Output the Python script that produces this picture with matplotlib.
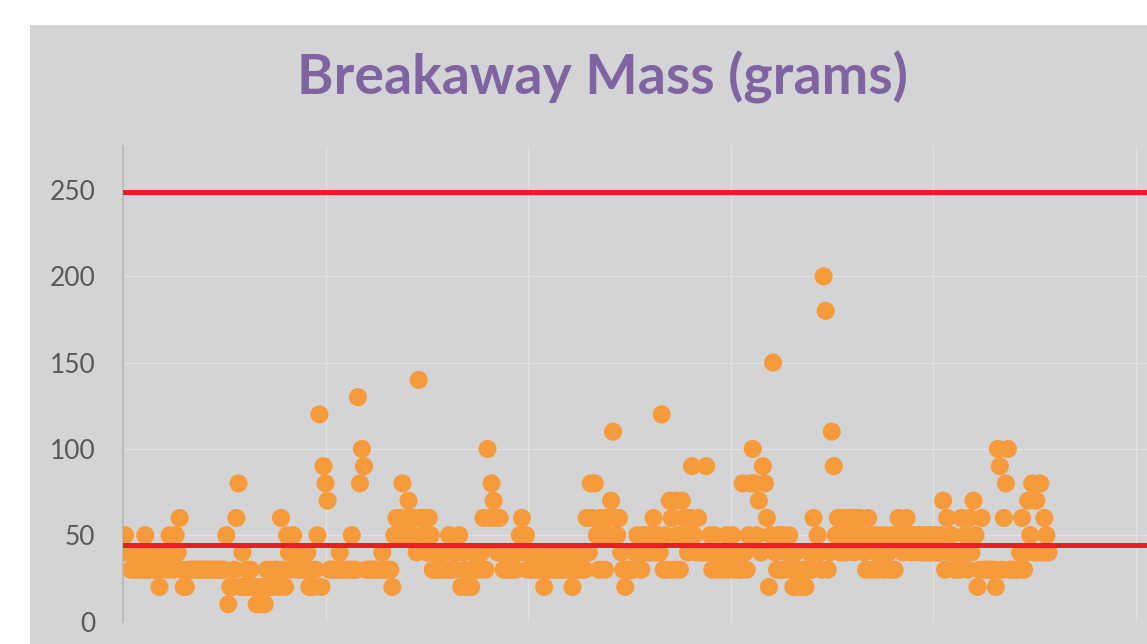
import numpy as np
import matplotlib.pyplot as plt
from matplotlib.patches import Rectangle

# breakaway mass per sample (grams), read in sample order
mass = [
    50, 40, 40, 30, 40,  30, 30, 30, 40, 30,  50, 30, 40, 30, 40,  30, 40, 20, 30, 40,
    40, 30, 50, 40, 30,  50, 40, 60, 30, 20,  20, 30, 30, 30, 30,  30, 30, 30, 30, 30,
    30, 30, 30, 30, 30,  30, 30, 30, 30, 30,  50, 10, 20, 20, 30,  60, 80, 20, 40, 20,
    30, 20, 30, 20, 20,  10, 20, 10, 20, 10,  30, 20, 30, 20, 30,  30, 20, 60, 30, 20,
    50, 40, 30, 50, 40,  30, 40, 30, 40, 30,  40, 20, 30, 20, 30,  50, 120, 20, 90, 80,
    70, 30, 30, 30, 30,  30, 40, 30, 30, 30,  30, 30, 50, 30, 30,  130, 80, 100, 90, 30,
    30, 30, 30, 30, 30,  30, 30, 40, 30, 30,  30, 30, 20, 50, 60,  50, 60, 80, 50, 60,
    70, 60, 50, 60, 40,  140, 60, 50, 60, 40,  60, 50, 30, 40, 30,  40, 30, 40, 30, 30,
    50, 30, 40, 30, 40,  50, 20, 40, 30, 20,  30, 20, 40, 30, 40,  30, 40, 60, 30, 100,
    60, 80, 70, 60, 40,  60, 40, 30, 40, 30,  40, 30, 40, 30, 40,  50, 60, 40, 50, 30,
    40, 30, 40, 30, 40,  30, 40, 20, 40, 30,  40, 30, 40, 30, 40,  30, 40, 30, 40, 30,
    40, 20, 30, 40, 30,  30, 40, 30, 60, 40,  80, 60, 80, 50, 30,  60, 50, 30, 60, 50,
    70, 110, 60, 50, 60,  40, 30, 20, 30, 30,  30, 30, 40, 50, 40,  30, 50, 40, 50, 40,
    50, 60, 40, 50, 40,  120, 30, 50, 30, 70,  60, 30, 70, 50, 30,  70, 60, 50, 40, 60,
    90, 50, 40, 60, 40,  40, 40, 90, 40, 50,  30, 50, 40, 30, 40,  30, 40, 50, 30, 40,
    50, 30, 40, 30, 30,  80, 40, 30, 50, 80,  100, 80, 50, 70, 40,  90, 80, 60, 20, 50,
    150, 40, 30, 50, 30,  50, 30, 40, 50, 30,  20, 40, 30, 20, 30,  30, 20, 30, 40, 30,
    60, 40, 50, 40, 30,  200, 180, 30, 40, 110,  90, 50, 60, 40, 60,  50, 40, 60, 50, 60,
    40, 60, 50, 60, 50,  40, 30, 60, 50, 30,  50, 40, 30, 50, 40,  30, 50, 40, 30, 50,
    30, 50, 60, 50, 40,  50, 60, 50, 40, 50,  50, 40, 50, 50, 40,  50, 40, 50, 40, 50,
    40, 50, 40, 50, 70,  30, 60, 40, 50, 40,  30, 40, 30, 60, 40,  50, 30, 60, 40, 70,
    50, 20, 30, 60, 30,  30, 30, 30, 30, 30,  20, 100, 90, 30, 60,  80, 100, 30, 30, 30,
    30, 30, 40, 60, 30,  40, 70, 50, 80, 40,  70, 40, 80, 40, 60,  50, 40,
]
upper_limit = 249
lower_limit = 44.5

y_ticks = [0, 50, 100, 150, 200, 250]
x_grid = [100, 200, 300, 400, 500]

bg = '#d3d4d6'
sample = np.arange(1, len(mass) + 1)

fig = plt.figure(figsize=(11.47, 6.44), dpi=100)
fig.patch.set_facecolor('white')
fig.add_artist(Rectangle((30 / 1147, 0), 1, 1 - 25 / 644,
                         transform=fig.transFigure, facecolor=bg,
                         edgecolor='none', zorder=-10))

ax = fig.add_axes([123 / 1147, 22.5 / 644, 1 - 123 / 1147, (621.5 - 146) / 644])
ax.set_facecolor(bg)

ax.scatter(sample, mass, s=170, color='#f79a3b', edgecolors='none', zorder=3)
ax.axhline(upper_limit, color='#ec1c24', lw=3.6, zorder=4)
ax.axhline(lower_limit, color='#ec1c24', lw=3.6, zorder=4)

ax.set_xlim(0, (1147 - 123) / 2.025)
ax.set_ylim(0, 275.5)
ax.set_yticks(y_ticks)
ax.set_xticks(x_grid)
ax.set_xticklabels([])
ax.tick_params(axis='x', length=0)
ax.tick_params(axis='y', length=0, pad=20, labelsize=19, labelcolor='#595959')
for lab in ax.get_yticklabels():
    lab.set_fontfamily('Lato')
ax.grid(True, color='#e1e1e1', lw=1, zorder=1)
for side in ['top', 'right', 'bottom']:
    ax.spines[side].set_visible(False)
ax.spines['left'].set_color('#bcbcbc')
ax.spines['left'].set_linewidth(1.5)

fig.text(602 / 1147, 1 - 77 / 644, 'Breakaway Mass (grams)', ha='center',
         va='center', fontsize=40, fontweight='bold', color='#8064a2',
         family='Lato')

fig.savefig('out.png', dpi=100)
